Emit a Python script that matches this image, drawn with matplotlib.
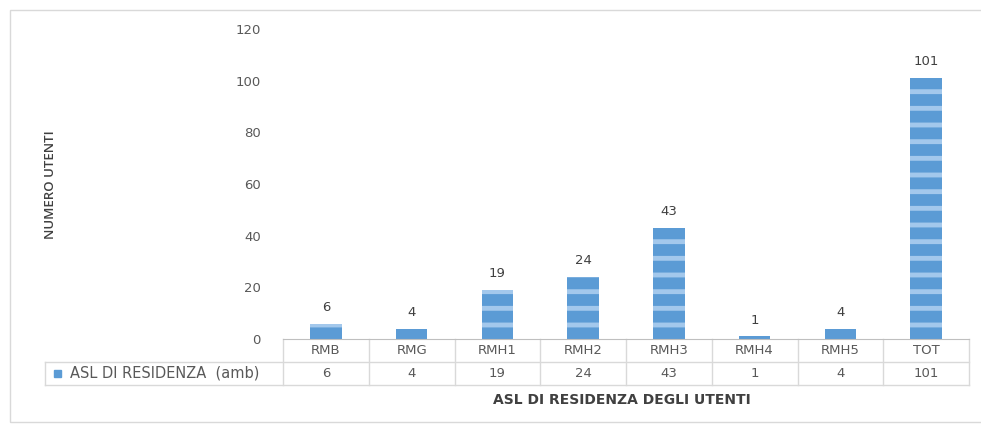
import matplotlib.pyplot as plt
from matplotlib.patches import Rectangle
from matplotlib.lines import Line2D
import matplotlib.transforms as mtransforms

categories = ['RMB', 'RMG', 'RMH1', 'RMH2', 'RMH3', 'RMH4', 'RMH5', 'TOT']
values = [6, 4, 19, 24, 43, 1, 4, 101]
series_name = 'ASL DI RESIDENZA  (amb)'
y_ticks = [0, 20, 40, 60, 80, 100, 120]

plt.rcParams['font.family'] = ['DejaVu Sans']
plt.rcParams['hatch.linewidth'] = 3.5

W, H = 981, 425
fig = plt.figure(figsize=(W / 100, H / 100), dpi=100)

# outer chart frame
fig.patches.append(Rectangle((10 / W, 3 / H), 990 / W, 412 / H, transform=fig.transFigure,
                             fill=False, edgecolor='#d9d9d9', linewidth=1))

left, right, top, bottom = 283, 969, 29, 339
ax = fig.add_axes([left / W, 1 - bottom / H, (right - left) / W, (bottom - top) / H])

x = range(len(categories))
ax.bar(x, values, width=0.37, color='#5b9bd5', edgecolor='#a3c8ec', hatch='-', linewidth=0)

for xi, v in zip(x, values):
    ax.annotate(str(v), (xi, v), xytext=(0, 7), textcoords='offset points',
                ha='center', va='bottom', fontsize=9.5, color='#404040')

ax.set_xlim(-0.5, len(categories) - 0.5)
ax.set_ylim(0, 120)
ax.set_yticks(y_ticks)
ax.tick_params(axis='y', length=0, pad=16, labelsize=9.5, labelcolor='#595959')
ax.set_xticks([])
for s in ['top', 'right', 'left']:
    ax.spines[s].set_visible(False)
ax.spines['bottom'].set_color('#bfbfbf')

# data table below the axis
row_h = 23 / (bottom - top)
trans = mtransforms.blended_transform_factory(ax.transData, ax.transAxes)
legend_x = (45 - left) / (right - left)
line_kw = dict(color='#d9d9d9', linewidth=1, clip_on=False)

ax.add_line(Line2D([legend_x, 1], [-row_h, -row_h], transform=ax.transAxes, **line_kw))
ax.add_line(Line2D([legend_x, 1], [-2 * row_h, -2 * row_h], transform=ax.transAxes, **line_kw))
ax.add_line(Line2D([legend_x, legend_x], [-row_h, -2 * row_h], transform=ax.transAxes, **line_kw))
for i in range(len(categories) + 1):
    ax.add_line(Line2D([i - 0.5, i - 0.5], [0, -2 * row_h], transform=trans, **line_kw))

for xi, (c, v) in enumerate(zip(categories, values)):
    ax.text(xi, -0.5 * row_h, c, transform=trans, ha='center', va='center',
            fontsize=9.5, color='#595959')
    ax.text(xi, -1.5 * row_h, str(v), transform=trans, ha='center', va='center',
            fontsize=9.5, color='#595959')

key_x = (54 - left) / (right - left)
ax.add_patch(Rectangle((key_x, -1.5 * row_h - 0.012), 0.010, 0.024, transform=ax.transAxes,
                       color='#5b9bd5', clip_on=False))
ax.text((70 - left) / (right - left), -1.5 * row_h, series_name, transform=ax.transAxes,
        ha='left', va='center', fontsize=10.5, color='#595959')

fig.text(622 / W, 1 - 400 / H, 'ASL DI RESIDENZA DEGLI UTENTI', ha='center', va='center',
         fontsize=10, fontweight='bold', color='#404040')
fig.text(50 / W, 1 - 185 / H, 'NUMERO UTENTI', rotation=90, ha='center', va='center',
         fontsize=9.5, color='#404040', family='Open Sans', fontweight='semibold')

fig.savefig('out.png', dpi=100)
